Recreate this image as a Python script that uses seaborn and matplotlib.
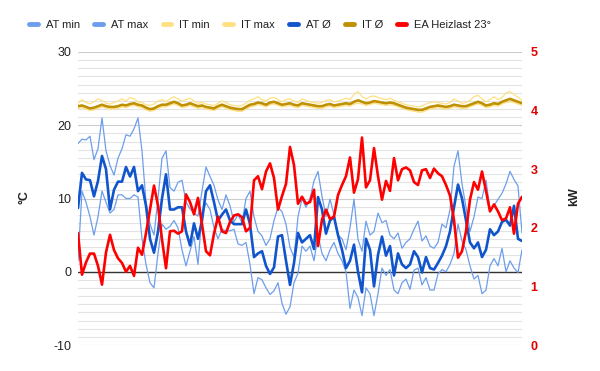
import numpy as np
import pandas as pd
import matplotlib
matplotlib.use("Agg")
import matplotlib.pyplot as plt
import seaborn as sns
from matplotlib.lines import Line2D
from matplotlib.ticker import MultipleLocator, FixedLocator

# ---------------- data ----------------
at_min = [1.5, 11, 9.5, 7.5, 5, 7.5, 11, 9.5, 8, 8.5, 10.5, 10.5, 10, 10, 10.5, 10.2, 4.5, 1, -1.5, -2.2,
          2.5, 6.5, 5.8, 6.2, 7, 6, 3, 0.8, 2.8, 4.8, 1, 8, 9.4, 8.5, 6, 4.5, 5.8, 5.6, 5.6, 5.8,
          3.8, 3.6, 4, 1, -3, -0.8, -1.1, -2.2, -3.1, -2.6, -1.5, -4.3, -5.8, -4.8, -1.5, -0.2,
          3.5, 2.8, 3.5, 1.5, 5, 2.5, 1.5, 3, 4, 2.5, 1.5, 0, -5, -2.5, -3.5, -6, -2.2, -3, -6, -3,
          0.5, -0.5, 0.3, -2.5, -3, -1.5, -1, -2.4, 0.2, 0.5, -1.8, -0.8, -2.5, -2.5, -0.3, 0.3, 0,
          1, 2.5, 6.5, 4.2, 3, 0.8, -1, -0.5, -3, -2.5, 0.8, 1.8, 0.8, 3.2, 0, 1.5, 0.5, -0.1, 3]
at_max = [17.5, 18.1, 18, 18.5, 15.3, 16.8, 21.0, 16.5, 14.5, 13.2, 15.5, 16.8, 18.7, 18.5, 19.5, 21.0, 16.5, 9.5,
          6.5, 5, 10, 15.5, 16.5, 11.5, 11, 12.2, 12.5, 9.5, 8.6, 8, 7.6, 11, 14.3, 13, 11.8, 9.8, 8.5, 10.5,
          9, 6.8, 7.8, 6.7, 10, 11, 7.5, 5.5, 4.9, 3.6, 4.5, 7, 8.8, 8.2, 6.5, 3.3, 2, 7.5,
          10, 8.8, 10, 12.4, 13.7, 10.3, 7.5, 9.9, 7.8, 5, 4.5, 3, 6, 9.9, 4.4, 2.8, 6.9, 5, 5.5, 8,
          6.7, 7, 5, 4.5, 5.3, 3.2, 4, 4.5, 5.8, 6.9, 4.2, 4.9, 3.5, 3.2, 4, 6.5, 6, 8.5, 14.4, 16.5,
          12, 8.8, 5.5, 7.5, 10.2, 10, 12.5, 8.5, 9, 9.9, 10.7, 12, 13.7, 12.6, 11.7, 5.3]
at_avg = [8.7, 13.5, 12.6, 12.5, 10.3, 12.4, 15.8, 14, 8.5, 11.2, 12.3, 12.3, 14.3, 13, 14.3, 11, 11.8, 9,
          4.5, 2.6, 5.5, 10, 13.3, 8.5, 8.5, 8.8, 8.8, 5.5, 3.6, 6.6, 4.5, 7, 11, 11.8, 9.5, 7, 7.8, 8.5,
          7, 6.5, 6.5, 6.5, 8.5, 6.5, 2, 2.5, 2.8, 0.8, -0.3, 0.6, 4.8, 5, 1.5, -1.8, 1.2, 5.3,
          4.0, 4.5, 5.0, 3.1, 10.2, 8.5, 5.2, 7.0, 7.5, 5, 3, 0.5, 1.5, 3.7, 0, -2.8, 4.5, 3, -2, 2.3,
          4.8, 2.2, 3.5, -0.5, 2.5, 1, 0.5, 1, 2.8, 2, -0.1, 2, 0.5, 0.3, 1.2, 2.2, 3.5, 5.5, 8.8, 11.9,
          10, 7, 4, 3.2, 4, 2, 3, 5.8, 5, 5.5, 6.8, 7.1, 6.3, 9, 4.5, 4.2]
it_min = [22.3, 22.4, 22.2, 22.0, 22.1, 22.3, 22.5, 22.3, 22.2, 22.2, 22.3, 22.5, 22.4, 22.6, 22.7, 22.5,
          22.4, 22.1, 21.9, 22.0, 22.3, 22.5, 22.5, 22.7, 22.9, 22.7, 22.4, 22.5, 22.7, 22.5, 22.3, 22.4,
          22.2, 22.1, 22.0, 22.3, 22.5, 22.3, 22.1, 22.0, 21.9, 21.9, 22.2, 22.5, 22.6, 22.8, 22.7, 22.5,
          22.8, 22.9, 22.7, 22.5, 22.6, 22.7, 22.5, 22.4,
          22.7, 22.6, 22.5, 22.4, 22.3, 22.3, 22.5, 22.6, 22.4, 22.5, 22.6, 22.7, 22.6, 22.9, 23.0, 22.9,
          22.7, 22.8, 23.0, 22.9, 22.8, 22.7, 22.8, 22.7, 22.5, 22.3, 22.1, 22.0, 21.9, 21.8, 21.8, 22.0,
          22.2, 22.3, 22.4, 22.3, 22.2, 22.3, 22.5, 22.4, 22.3, 22.3, 22.5, 22.7, 22.9, 22.7, 22.4, 22.5,
          22.7, 22.6, 22.9, 23.1, 23.2, 23.1, 22.9, 22.7]
it_max = [23.0, 23.5, 23.1, 22.9, 23.2, 23.6, 23.4, 23.0, 22.9, 23.1, 23.3, 23.6, 23.3, 23.8, 23.6, 23.2,
          23.1, 22.8, 22.7, 22.9, 23.3, 23.5, 23.2, 23.6, 23.9, 23.6, 23.3, 23.5, 23.7, 23.3, 23.0, 23.1,
          22.9, 22.8, 22.7, 23.0, 23.3, 23.1, 22.8, 22.7, 22.6, 22.7, 23.0, 23.4, 23.6, 23.9, 23.5, 23.3,
          23.7, 23.8, 23.5, 23.2, 23.5, 23.6, 23.3, 23.1,
          23.6, 23.4, 23.2, 23.1, 23.0, 23.1, 23.4, 23.5, 23.2, 23.3, 23.5, 23.7, 23.5, 24.2, 24.6, 23.9,
          23.6, 23.9, 24.0, 23.8, 23.6, 23.5, 23.7, 23.4, 23.2, 23.0, 22.8, 22.7, 22.6, 22.5, 22.6, 22.9,
          23.1, 23.2, 23.1, 23.0, 22.9, 23.1, 23.6, 23.3, 23.0, 23.1, 23.4, 23.9, 24.1, 23.6, 23.2, 23.5,
          23.9, 23.5, 23.8, 24.4, 24.6, 24.2, 23.8, 23.4]
it_avg = [22.6, 22.7, 22.5, 22.3, 22.4, 22.6, 22.8, 22.6, 22.5, 22.5, 22.6, 22.8, 22.7, 22.9, 23.0, 22.8,
          22.7, 22.4, 22.2, 22.3, 22.6, 22.8, 22.8, 23.0, 23.2, 23.0, 22.7, 22.8, 23.0, 22.8, 22.6, 22.7,
          22.5, 22.4, 22.3, 22.6, 22.8, 22.6, 22.4, 22.3, 22.2, 22.2, 22.5, 22.8, 22.9, 23.1, 23.0, 22.8,
          23.1, 23.2, 23.0, 22.8, 22.9, 23.0, 22.8, 22.7,
          23.0, 22.9, 22.8, 22.7, 22.6, 22.6, 22.8, 22.9, 22.7, 22.8, 22.9, 23.0, 22.9, 23.2, 23.4, 23.2,
          23.0, 23.1, 23.3, 23.2, 23.1, 23.0, 23.1, 23.0, 22.8, 22.6, 22.4, 22.3, 22.2, 22.1, 22.1, 22.3,
          22.5, 22.6, 22.7, 22.6, 22.5, 22.6, 22.8, 22.7, 22.6, 22.6, 22.8, 23.0, 23.2, 23.0, 22.7, 22.8,
          23.0, 22.9, 23.2, 23.4, 23.6, 23.4, 23.2, 23.0]
ea_kw = [1.91, 1.2, 1.41, 1.56, 1.56, 1.35, 1.03, 1.58, 1.88, 1.62, 1.48, 1.4, 1.25, 1.35, 1.18, 1.66,
         1.54, 1.91, 2.31, 2.72, 2.38, 1.8, 1.31, 1.94, 1.95, 1.9, 1.94, 2.57, 2.44, 2.23, 2.51, 2.06,
         1.6, 1.53, 1.9, 2.19, 1.94, 1.91, 2.1, 2.21, 2.23, 2.18, 1.94, 2.0, 2.81, 2.88, 2.66, 2.96,
         3.1, 2.85, 2.31, 2.54, 2.75, 3.38, 3.07, 2.41,
         2.53, 2.41, 2.44, 2.65, 1.69, 2.14, 2.31, 2.15, 2.19, 2.56, 2.73, 2.88, 3.2, 2.6, 2.83, 3.54,
         2.69, 2.81, 3.36, 2.88, 2.48, 2.8, 2.63, 3.19, 2.81, 3.0, 3.03, 2.98, 2.78, 2.73, 2.98, 3.0,
         2.85, 3.01, 2.93, 2.88, 2.73, 2.55, 2.13, 1.49, 1.6, 1.94, 2.48, 2.78, 2.65, 2.96, 2.63, 2.28,
         2.4, 2.28, 2.13, 2.16, 2.35, 1.9, 2.41, 2.53]

labels = ["AT min", "AT max", "IT min", "IT max", "AT Ø", "IT Ø", "EA Heizlast 23°"]
left_ticks = [-10, 0, 10, 20, 30]
right_ticks = [0, 1, 2, 3, 4, 5]

n = min(len(at_min), len(at_max), len(at_avg), len(it_min), len(it_max), len(it_avg), len(ea_kw))
day = np.arange(n)
df = pd.DataFrame({"day": day, "at_min": at_min[:n], "at_max": at_max[:n], "at_avg": at_avg[:n],
                   "it_min": it_min[:n], "it_max": it_max[:n], "it_avg": it_avg[:n], "ea": ea_kw[:n]})

# ---------------- style ----------------
sns.set_theme(style="white")
plt.rcParams['font.family'] = ['Liberation Sans', 'DejaVu Sans']
plt.rcParams['axes.unicode_minus'] = False

c_at_light = "#6d9eeb"
c_at_dark = "#1155cc"
c_it_light = "#ffe082"
c_it_dark = "#bf9000"
c_red = "#ff0000"

fig = plt.figure(figsize=(6, 3.71), dpi=100)
ax = fig.add_axes([78 / 600, 1 - 345 / 371, 444 / 600, 293 / 371])
ax2 = ax.twinx()

thin = 0.9
thick = 1.9
sns.lineplot(data=df, x="day", y="at_min", ax=ax, color=c_at_light, lw=thin, legend=False)
sns.lineplot(data=df, x="day", y="at_max", ax=ax, color=c_at_light, lw=thin, legend=False)
sns.lineplot(data=df, x="day", y="it_min", ax=ax, color=c_it_light, lw=thin, legend=False)
sns.lineplot(data=df, x="day", y="it_max", ax=ax, color=c_it_light, lw=thin, legend=False)
sns.lineplot(data=df, x="day", y="at_avg", ax=ax, color=c_at_dark, lw=thick, legend=False)
sns.lineplot(data=df, x="day", y="it_avg", ax=ax, color=c_it_dark, lw=thick, legend=False)
sns.lineplot(data=df, x="day", y="ea", ax=ax2, color=c_red, lw=thick, legend=False)

ax.set_xlim(0, n - 1)
ax.set_ylim(-10, 30)
ax2.set_ylim(0, 5)
ax.yaxis.set_major_locator(FixedLocator(left_ticks))
ax.yaxis.set_minor_locator(MultipleLocator(10 / 9))
ax2.yaxis.set_major_locator(FixedLocator(right_ticks))
ax.grid(which="major", axis="y", color="#cccccc", lw=0.8)
ax.grid(which="minor", axis="y", color="#e3e3e3", lw=0.8)
ax.grid(False, axis="x")
ax2.grid(False)
ax.axhline(0, color="#333333", lw=1.0, zorder=1.5)
ax.set_xticks([])
ax2.set_xticks([])
for a in (ax, ax2):
    for s in a.spines.values():
        s.set_visible(False)
    a.set_xlabel("")
    a.set_ylabel("")
ax.tick_params(axis="y", which="both", length=0, labelsize=9, labelcolor="#222222", pad=5)
ax2.tick_params(axis="y", which="both", length=0, labelsize=9, labelcolor="#e00000", pad=6)
for t in ax2.get_yticklabels():
    t.set_fontweight("bold")

fig.text(25 / 600, 1 - 197 / 371, "°C", rotation=90, ha="center", va="center",
         fontsize=9, fontweight="bold", color="#222222")
fig.text(574 / 600, 1 - 197 / 371, "kW", rotation=90, ha="center", va="center",
         fontsize=9, fontweight="bold", color="#222222")

handles = [Line2D([], [], color=c_at_light, lw=3.5),
           Line2D([], [], color=c_at_light, lw=3.5),
           Line2D([], [], color=c_it_light, lw=3.5),
           Line2D([], [], color=c_it_light, lw=3.5),
           Line2D([], [], color=c_at_dark, lw=3.5),
           Line2D([], [], color=c_it_dark, lw=3.5),
           Line2D([], [], color=c_red, lw=3.5)]
fig.legend(handles, labels, loc="center", bbox_to_anchor=(260 / 600, 1 - 25 / 371), ncol=7,
           frameon=False, fontsize=8, handlelength=0.8, handletextpad=0.7, columnspacing=1.3,
           labelcolor="#222222")

fig.savefig("out.png", dpi=100)
